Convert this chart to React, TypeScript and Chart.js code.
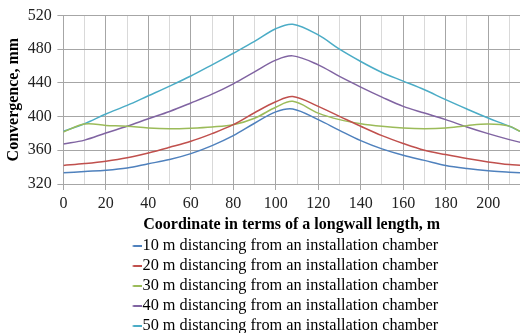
import React, { useEffect, useRef } from 'react';
import { Chart, registerables } from 'chart.js';

Chart.register(...registerables);

const xCoords = [0, 10, 20, 30, 40, 50, 60, 70, 80, 90, 100, 108, 120, 130, 140, 150, 160, 170, 180, 190, 200, 210, 215];

const s10 = [333.2, 334.8, 336.3, 339, 344, 349, 356, 365.5, 377.3, 392, 405.5, 409, 396.3, 383.6, 371.4, 361.6, 354, 348, 342, 338.3, 335.6, 334, 333.2];
const s20 = [342, 344.2, 347, 351, 356.8, 363.5, 370.6, 379.7, 390.3, 404.5, 417.5, 423.8, 412, 400.2, 388.4, 377.3, 368, 360, 354.9, 350.2, 346.2, 343, 342.3];
const s30 = [381.7, 391, 389.5, 388.4, 386.4, 385.6, 386.2, 387.6, 390.3, 398, 411, 418, 404, 396.3, 391.5, 388.4, 386.4, 385.6, 386.4, 389.2, 391, 388.6, 382.4];
const s40 = [367.5, 372, 380.5, 388.4, 397.4, 406, 416, 426.5, 438.8, 453, 466.8, 471.9, 461.3, 447.5, 434.9, 423, 412, 404.1, 396.3, 387.6, 379.7, 372.6, 369.5];
const s50 = [382.5, 391.5, 403, 413.2, 424.6, 436, 448, 461.3, 475, 489, 504, 509.4, 496.7, 479.8, 465.2, 452.2, 442, 431.7, 420, 408.9, 398.2, 388.4, 382.4];

const seriesLabels = [
  '10 m distancing from an installation chamber',
  '20 m distancing from an installation chamber',
  '30 m distancing from an installation chamber',
  '40 m distancing from an installation chamber',
  '50 m distancing from an installation chamber',
];
const seriesColors = ['#4F81BD', '#C0504D', '#9BBB59', '#8064A2', '#4BACC6'];
const seriesValues = [s10, s20, s30, s40, s50];

const xGridValues = [0, 10, 20, 30, 40, 50, 60, 70, 80, 90, 100, 110, 120, 130, 140, 150, 160, 170, 180, 190, 200, 210];

function makeMarker(color: string) {
  const c = document.createElement('canvas');
  c.width = 20;
  c.height = 4;
  const g = c.getContext('2d');
  if (g) {
    g.fillStyle = color;
    g.fillRect(10.5, 1, 9.5, 2);
  }
  return c;
}

export default function App() {
  const ref = useRef<HTMLCanvasElement | null>(null);
  useEffect(() => {
    if (!ref.current) return;
    const font = 'Liberation Serif, Times New Roman, serif';
    const legendFont = 16.3;
    const legendPad = 3.7;
    const legendPlugin = {
      id: 'legendPlace',
      afterLayout(chart: any) {
        const lg = chart.legend;
        if (!lg || !lg.lineWidths) return;
        const dy = 246 - legendFont / 2 - legendPad - lg.top;
        lg.top += dy;
        lg.bottom += dy;
        const itemX = (lg.left + legendPad + lg.right - lg.lineWidths[0]) / 2;
        const dx = 142.5 - 4 - legendFont / 2 - itemX;
        lg.left += dx;
        lg.right += dx;
      },
    };
    const chart = new Chart(ref.current, {
      type: 'line',
      data: {
        datasets: seriesValues.map((vals, i) => ({
          label: seriesLabels[i],
          data: vals.map((v, j) => ({ x: xCoords[j], y: v })),
          borderColor: seriesColors[i],
          backgroundColor: seriesColors[i],
          borderWidth: 1.5,
          pointRadius: 0,
          pointStyle: makeMarker(seriesColors[i]),
          tension: 0.35,
          fill: false,
        })),
      },
      plugins: [legendPlugin],
      options: {
        animation: false,
        responsive: true,
        maintainAspectRatio: false,
        layout: { padding: { top: 0, left: 0, right: 0, bottom: -11.4 } },
        plugins: {
          tooltip: { enabled: false },
          legend: {
            position: 'bottom',
            labels: {
              usePointStyle: true,
              pointStyleWidth: 4,
              color: '#000',
              font: { family: font, size: legendFont },
              padding: legendPad,
            },
          },
        },
        scales: {
          x: {
            type: 'linear',
            min: 0,
            max: 215,
            afterBuildTicks: (scale: any) => {
              scale.ticks = xGridValues.map((v) => ({ value: v }));
            },
            ticks: {
              autoSkip: false,
              maxRotation: 0,
              color: '#222',
              font: { family: font, size: 16 },
              padding: 4,
              callback: (v: any) => (Number(v) % 20 === 0 ? String(v) : ''),
            },
            grid: {
              color: (ctx: any) => (ctx.tick && ctx.tick.value % 20 === 0 ? '#a6a6a6' : '#d9d9d9'),
              tickColor: (ctx: any) => (ctx.tick && ctx.tick.value % 20 === 0 ? '#a6a6a6' : 'rgba(0,0,0,0)'),
              tickLength: 6,
              lineWidth: 1,
            },
            border: { color: '#a6a6a6' },
            title: {
              display: true,
              text: 'Coordinate in terms of a longwall length, m',
              color: '#000',
              font: { family: font, size: 16, weight: 'bold' },
              padding: { top: -2, bottom: 0 },
            },
          },
          y: {
            min: 320,
            max: 520,
            ticks: {
              stepSize: 40,
              color: '#222',
              font: { family: font, size: 16 },
              padding: 5.7,
            },
            grid: {
              color: '#a6a6a6',
              tickLength: 6,
              lineWidth: 1,
            },
            border: { color: '#a6a6a6' },
            title: {
              display: true,
              text: 'Convergence, mm',
              color: '#000',
              font: { family: font, size: 16, weight: 'bold' },
              padding: { top: 4.5, bottom: -1.7 },
            },
          },
        },
      },
    } as any);
    return () => chart.destroy();
  }, []);
  return (
    <div style={{ position: 'fixed', left: 0, top: 0, width: 520, height: 333, background: '#fff' }}>
      <canvas ref={ref} />
    </div>
  );
}
